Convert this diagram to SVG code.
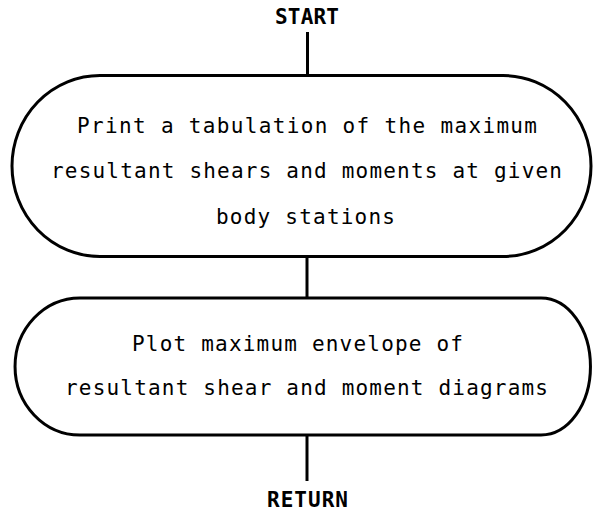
<svg xmlns="http://www.w3.org/2000/svg" width="593" height="511" viewBox="0 0 593 511">
<style>
.bg{fill:#ffffff}
.shape{fill:none;stroke:#000;stroke-width:3}
.conn{stroke:#000;stroke-width:3;fill:none}
.t{font-family:"DejaVu Sans Mono","Liberation Mono",monospace;font-size:21px;fill:#000}
.term{font-family:"DejaVu Sans Mono","Liberation Mono",monospace;font-size:21px;font-weight:bold;fill:#000}
</style>
<rect class="bg" x="0" y="0" width="593" height="511"/>
<g id="start">
<text class="term" x="275" y="24" textLength="64" lengthAdjust="spacing">START</text>
</g>
<g id="box1">
<path class="shape" d="M100,75.5 H503 A88,90.5 0 0 1 503,256.5 H100 A88,90.5 0 0 1 100,75.5 Z"/>
<text class="t" x="77" y="133" textLength="460" lengthAdjust="spacing">Print a tabulation of the maximum</text>
<text class="t" x="51" y="178" textLength="511" lengthAdjust="spacing">resultant shears and moments at given</text>
<text class="t" x="216" y="224" textLength="179" lengthAdjust="spacing">body stations</text>
</g>
<g id="box2">
<path class="shape" d="M80,298 H541 A49.5,68.5 0 0 1 541,435 H80 A65,68.5 0 0 1 80,298 Z"/>
<text class="t" x="132" y="351" textLength="331" lengthAdjust="spacing">Plot maximum envelope of</text>
<text class="t" x="65" y="395" textLength="483" lengthAdjust="spacing">resultant shear and moment diagrams</text>
</g>
<g id="return">
<text class="term" x="267" y="507" textLength="81" lengthAdjust="spacing">RETURN</text>
</g>
<g id="connectors">
<line class="conn" x1="307.5" y1="32" x2="307.5" y2="75.5"/>
<line class="conn" x1="307" y1="256.5" x2="307" y2="298"/>
<line class="conn" x1="307" y1="435" x2="307" y2="481"/>
</g>
</svg>
